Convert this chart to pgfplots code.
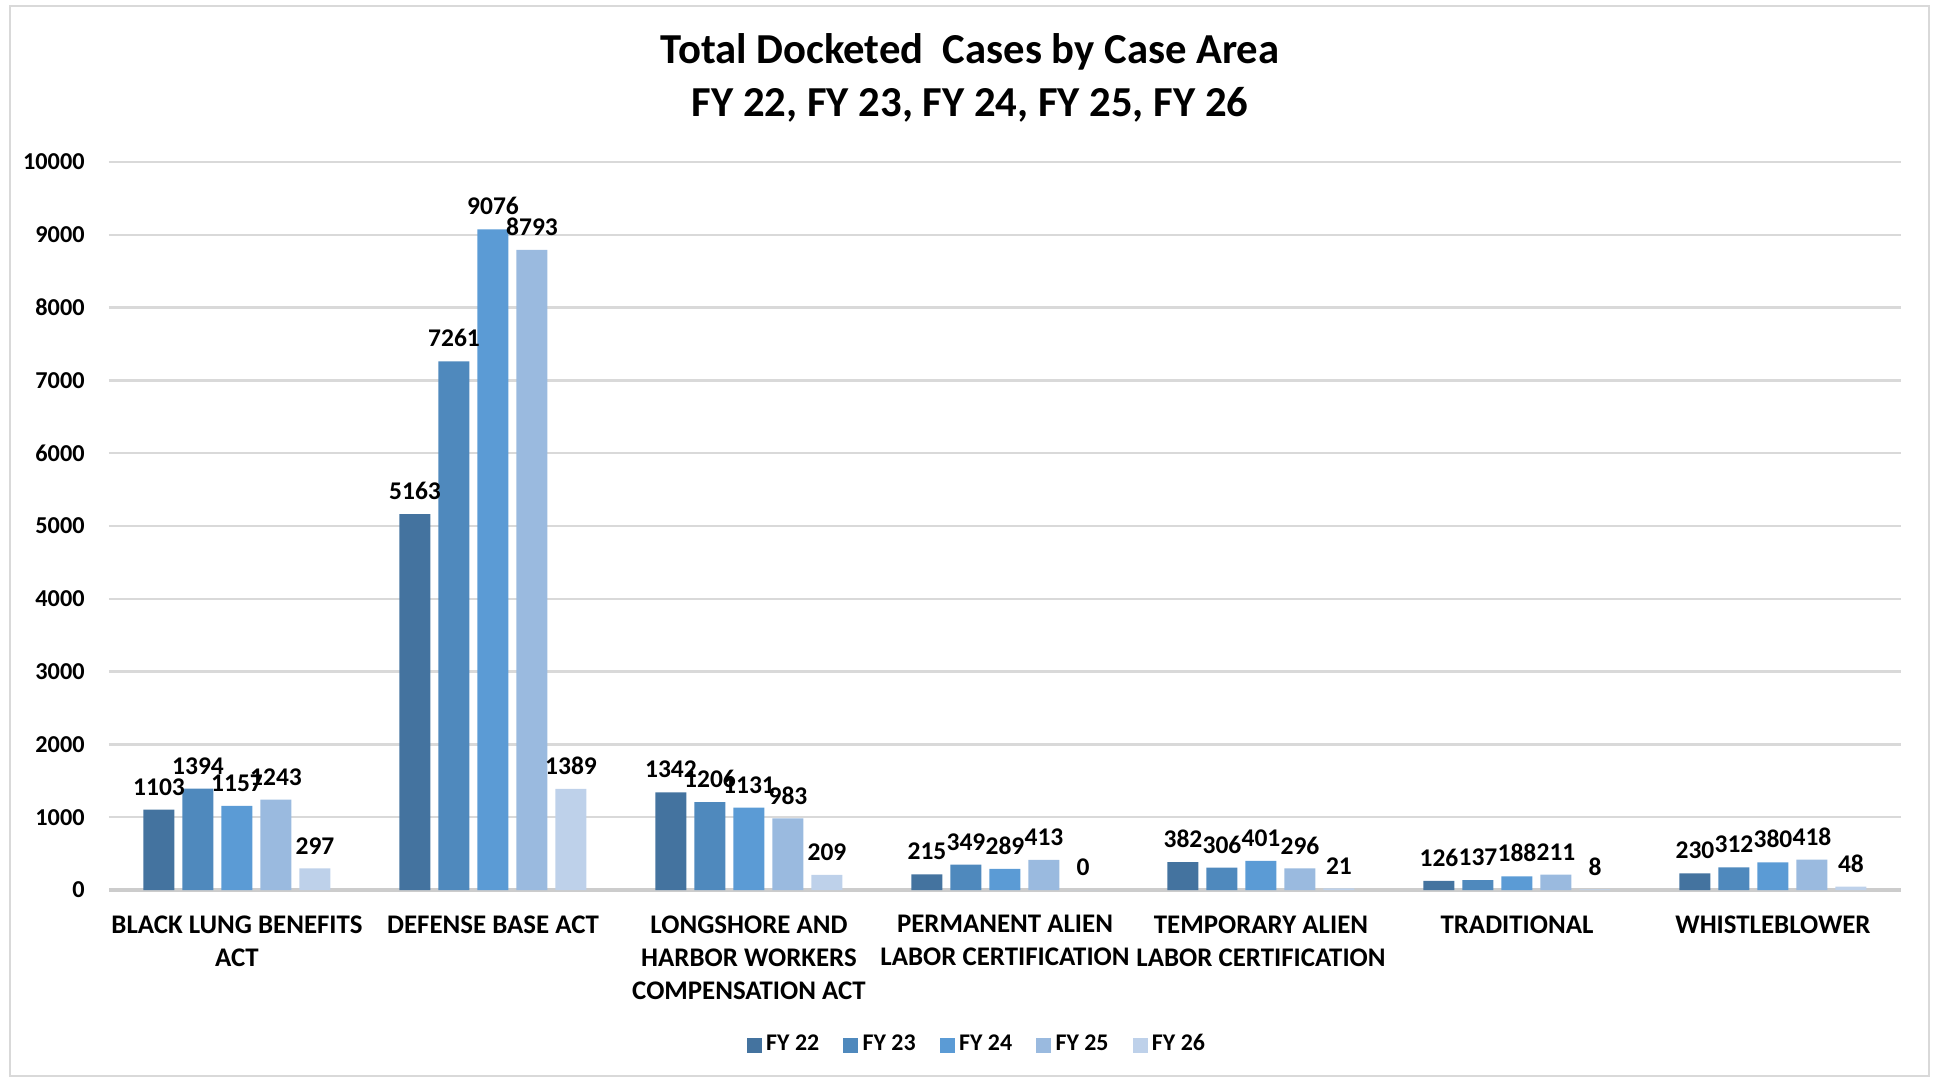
\documentclass[border=0pt]{standalone}
\usepackage{pgfplots}
\pgfplotsset{compat=1.18}
\usepackage{fontspec}
\setmainfont{Carlito}
\definecolor{c1}{HTML}{44739F}
\definecolor{c2}{HTML}{4F89BD}
\definecolor{c3}{HTML}{5B9BD5}
\definecolor{c4}{HTML}{9ABADF}
\definecolor{c5}{HTML}{BED1EA}
\begin{document}
\begin{tikzpicture}
\path[use as bounding box] (-1.09,-1.89) rectangle (18.30,8.90);
\draw[black!15, line width=0.8pt] (-0.99,-1.86) rectangle (18.20,8.84);
\begin{axis}[
  at={(0,0)}, anchor=south west,
  width=17.92cm, height=7.28cm, scale only axis,
  xmin=-0.5, xmax=6.5, ymin=0, ymax=10000,
  ybar=0.08cm, bar width=0.31cm,
  axis x line*=bottom, axis y line*=left,
  y axis line style={draw=none},
  x axis line style={draw=black!20, line width=0.9pt, -},
  major tick length=0pt,
  ymajorgrids, grid style={draw=black!15, line width=0.7pt},
  ytick={0,1000,...,10000},
  scaled y ticks=false,
  /pgf/number format/1000 sep={},
  /pgf/number format/assume math mode=true,
  yticklabel style={font=\bfseries\fontsize{6.9}{8}\selectfont, xshift=-0.12cm},
  xtick={0,...,6},
  xticklabels={BLACK LUNG BENEFITS\\ACT, DEFENSE BASE ACT, LONGSHORE AND\\HARBOR WORKERS\\COMPENSATION ACT, PERMANENT ALIEN\\LABOR CERTIFICATION, TEMPORARY ALIEN\\LABOR CERTIFICATION, TRADITIONAL, WHISTLEBLOWER},
  xticklabel style={align=center, font=\bfseries\fontsize{7.65}{9.4}\selectfont, yshift=-0.13cm},
  nodes near coords,
  every node near coord/.append style={font=\bfseries\fontsize{7.25}{9}\selectfont, text=black, inner sep=1pt, yshift=0.1cm},
  legend columns=5,
  legend style={at={(axis description cs:0.485,-0.213)}, anchor=center, draw=none, font=\bfseries\fontsize{6.8}{8}\selectfont, nodes={inner xsep=1.2pt}, /tikz/every even column/.append style={column sep=0.2cm}},
  legend image code/.code={\fill[#1] (0cm,-0.075cm) rectangle (0.15cm,0.075cm);},
]
\addplot[fill=c1, draw=none] coordinates {(0,1103) (1,5163) (2,1342) (3,215) (4,382) (5,126) (6,230)};
\addplot[fill=c2, draw=none] coordinates {(0,1394) (1,7261) (2,1206) (3,349) (4,306) (5,137) (6,312)};
\addplot[fill=c3, draw=none] coordinates {(0,1157) (1,9076) (2,1131) (3,289) (4,401) (5,188) (6,380)};
\addplot[fill=c4, draw=none] coordinates {(0,1243) (1,8793) (2,983) (3,413) (4,296) (5,211) (6,418)};
\addplot[fill=c5, draw=none] coordinates {(0,297) (1,1389) (2,209) (3,0) (4,21) (5,8) (6,48)};
\legend{FY 22, FY 23, FY 24, FY 25, FY 26}
\end{axis}
\node[font=\bfseries\fontsize{12.15}{14}\selectfont] at (8.61,8.38) {Total Docketed\ \ Cases by Case Area};
\node[font=\bfseries\fontsize{12.15}{14}\selectfont] at (8.61,7.85) {FY 22, FY 23, FY 24, FY 25, FY 26};
\end{tikzpicture}
\end{document}
